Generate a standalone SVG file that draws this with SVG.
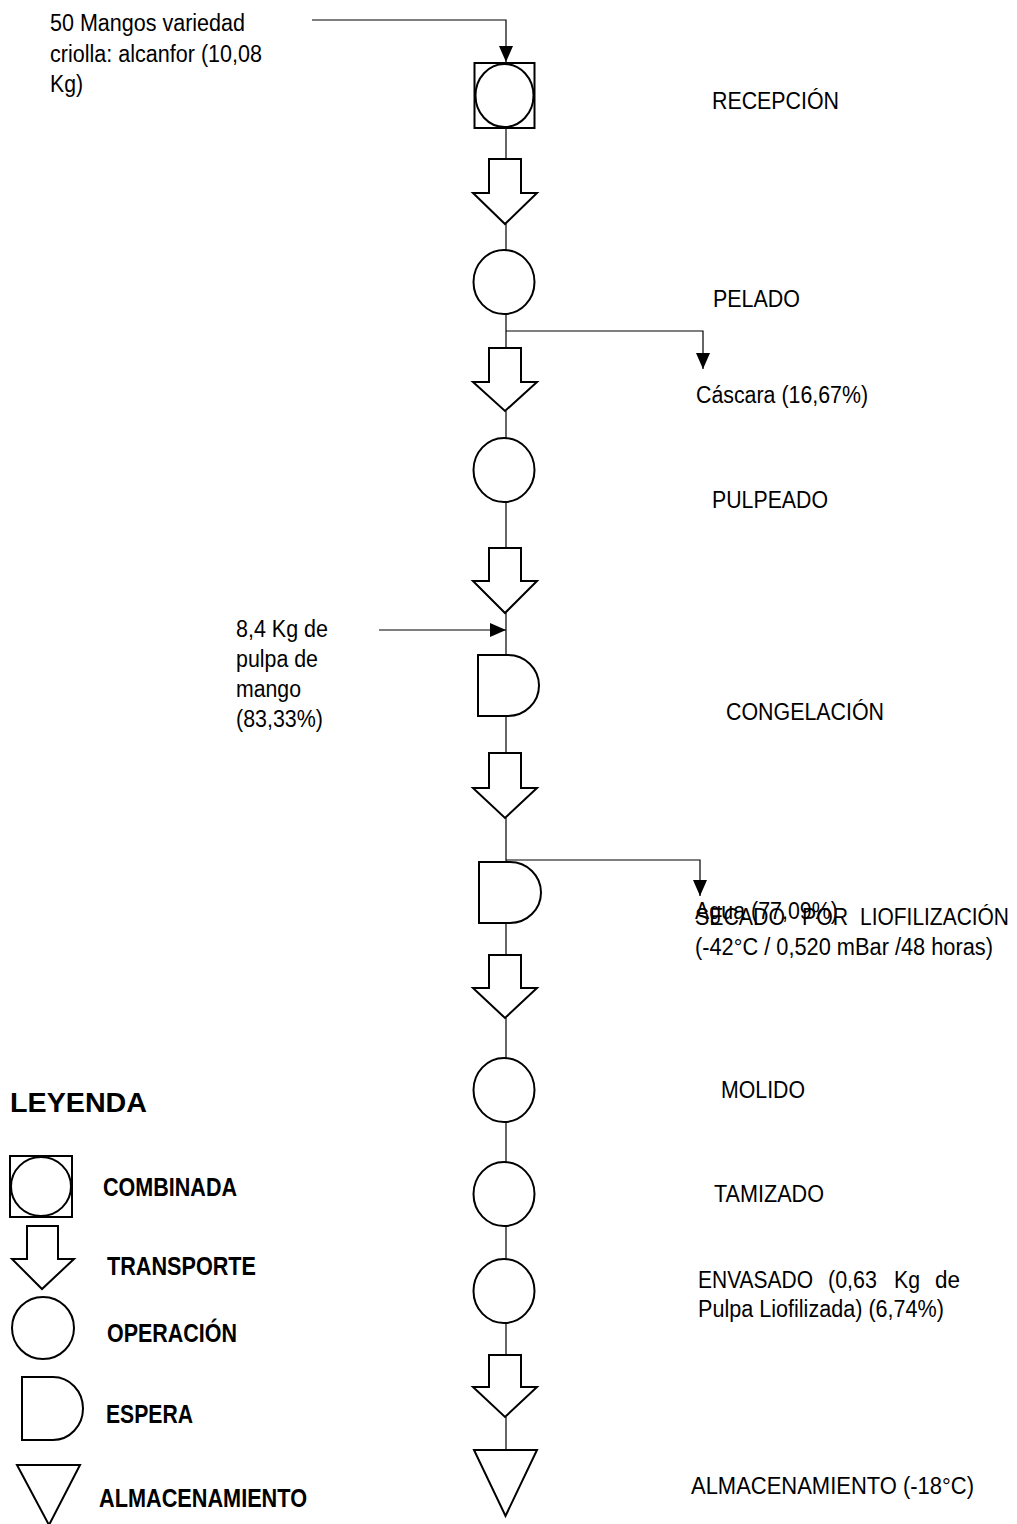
<svg xmlns="http://www.w3.org/2000/svg" width="1017" height="1524" viewBox="0 0 1017 1524">
<defs>
<marker id="ah" markerUnits="userSpaceOnUse" markerWidth="16" markerHeight="14" refX="16" refY="7" orient="auto">
<path d="M0,0 L16,7 L0,14 Z" fill="#000"/>
</marker>
</defs>
<style>
.s{fill:#fff;stroke:#000;stroke-width:2}
.c{fill:none;stroke:#000;stroke-width:1.2}
.t{font-family:"Liberation Sans",Arial,sans-serif;font-size:23.5px;fill:#000}
.b{font-family:"Liberation Sans Narrow","Liberation Sans",Arial,sans-serif;font-weight:bold;font-size:26px;fill:#000}
.h{font-family:"Liberation Sans",Arial,sans-serif;font-weight:bold;font-size:28.5px;fill:#000}
</style>
<rect width="1017" height="1524" fill="#fff"/>
<g id="connectors">
<path class="c" d="M312,20 H506 V62" marker-end="url(#ah)"/>
<line class="c" x1="506" y1="128" x2="506" y2="159"/>
<line class="c" x1="506" y1="224" x2="506" y2="250"/>
<line class="c" x1="506" y1="314" x2="506" y2="348"/>
<path class="c" d="M506,331 H703 V369" marker-end="url(#ah)"/>
<line class="c" x1="506" y1="411" x2="506" y2="438"/>
<line class="c" x1="506" y1="502" x2="506" y2="548"/>
<line class="c" x1="506" y1="613" x2="506" y2="655"/>
<path class="c" d="M379,630 H506" marker-end="url(#ah)"/>
<line class="c" x1="506" y1="716" x2="506" y2="753"/>
<line class="c" x1="506" y1="818" x2="506" y2="862"/>
<path class="c" d="M506,860 H700 V896" marker-end="url(#ah)"/>
<line class="c" x1="506" y1="923" x2="506" y2="955"/>
<line class="c" x1="506" y1="1018" x2="506" y2="1058"/>
<line class="c" x1="506" y1="1122" x2="506" y2="1162"/>
<line class="c" x1="506" y1="1226" x2="506" y2="1259"/>
<line class="c" x1="506" y1="1323" x2="506" y2="1355"/>
<line class="c" x1="506" y1="1417" x2="506" y2="1450"/>
</g>
<g id="input-mangos">
<text class="t" x="50" y="31" textLength="195" lengthAdjust="spacingAndGlyphs">50 Mangos variedad</text>
<text class="t" x="50" y="62" textLength="212" lengthAdjust="spacingAndGlyphs">criolla: alcanfor (10,08</text>
<text class="t" x="50" y="92" textLength="33" lengthAdjust="spacingAndGlyphs">Kg)</text>
</g>
<g id="recepcion">
<rect class="s" x="474.5" y="63" width="60" height="65"/>
<ellipse class="s" cx="504.5" cy="95.5" rx="29" ry="31.5"/>
<text class="t" x="712" y="109" textLength="127" lengthAdjust="spacingAndGlyphs">RECEPCIÓN</text>
</g>
<g id="transporte-1"><path class="s" d="M489,159 H521 V193 H537 L505,224 L473,193 H489 Z"/></g>
<g id="pelado">
<ellipse class="s" cx="504" cy="282" rx="30.5" ry="32"/>
<text class="t" x="713" y="307" textLength="87" lengthAdjust="spacingAndGlyphs">PELADO</text>
</g>
<g id="cascara"><text class="t" x="696" y="403" textLength="172" lengthAdjust="spacingAndGlyphs">Cáscara (16,67%)</text></g>
<g id="transporte-2"><path class="s" d="M489,348 H521 V382 H537 L505,411 L473,382 H489 Z"/></g>
<g id="pulpeado">
<ellipse class="s" cx="504" cy="470" rx="30.5" ry="32"/>
<text class="t" x="712" y="508" textLength="116" lengthAdjust="spacingAndGlyphs">PULPEADO</text>
</g>
<g id="transporte-3"><path class="s" d="M489,548 H521 V581 H537 L505,613 L473,581 H489 Z"/></g>
<g id="input-pulpa">
<text class="t" x="236" y="637" textLength="92" lengthAdjust="spacingAndGlyphs">8,4 Kg de</text>
<text class="t" x="236" y="667" textLength="82" lengthAdjust="spacingAndGlyphs">pulpa de</text>
<text class="t" x="236" y="697" textLength="65" lengthAdjust="spacingAndGlyphs">mango</text>
<text class="t" x="236" y="727" textLength="87" lengthAdjust="spacingAndGlyphs">(83,33%)</text>
</g>
<g id="congelacion">
<path class="s" d="M478,655 H508 A31 30.5 0 0 1 508,716 H478 Z"/>
<text class="t" x="726" y="720" textLength="158" lengthAdjust="spacingAndGlyphs">CONGELACIÓN</text>
</g>
<g id="transporte-4"><path class="s" d="M489,753 H521 V788 H537 L505,818 L473,788 H489 Z"/></g>
<g id="secado">
<path class="s" d="M479,862 H510 A31 30.5 0 0 1 510,923 H479 Z"/>
<text class="t" x="695" y="925" textLength="90" lengthAdjust="spacingAndGlyphs">SECADO</text>
<text class="t" x="802" y="925" textLength="46" lengthAdjust="spacingAndGlyphs">POR</text>
<text class="t" x="860" y="925" textLength="149" lengthAdjust="spacingAndGlyphs">LIOFILIZACIÓN</text>
<text class="t" x="695" y="955" textLength="298" lengthAdjust="spacingAndGlyphs">(-42°C / 0,520 mBar /48 horas)</text>
</g>
<g id="agua"><text class="t" x="695" y="919" textLength="143" lengthAdjust="spacingAndGlyphs">Agua (77,09%)</text></g>
<g id="transporte-5"><path class="s" d="M489,955 H521 V988 H537 L505,1018 L473,988 H489 Z"/></g>
<g id="molido">
<ellipse class="s" cx="504" cy="1090" rx="30.5" ry="32"/>
<text class="t" x="721" y="1098" textLength="84" lengthAdjust="spacingAndGlyphs">MOLIDO</text>
</g>
<g id="tamizado">
<ellipse class="s" cx="504" cy="1194" rx="30.5" ry="32"/>
<text class="t" x="714" y="1202" textLength="110" lengthAdjust="spacingAndGlyphs">TAMIZADO</text>
</g>
<g id="envasado">
<ellipse class="s" cx="504" cy="1291" rx="30.5" ry="32"/>
<text class="t" x="698" y="1288" textLength="115" lengthAdjust="spacingAndGlyphs">ENVASADO</text>
<text class="t" x="828" y="1288" textLength="49" lengthAdjust="spacingAndGlyphs">(0,63</text>
<text class="t" x="894" y="1288" textLength="26" lengthAdjust="spacingAndGlyphs">Kg</text>
<text class="t" x="935" y="1288" textLength="25" lengthAdjust="spacingAndGlyphs">de</text>
<text class="t" x="698" y="1317" textLength="246" lengthAdjust="spacingAndGlyphs">Pulpa Liofilizada) (6,74%)</text>
</g>
<g id="transporte-6"><path class="s" d="M489,1355 H521 V1387 H537 L505,1417 L473,1387 H489 Z"/></g>
<g id="almacenamiento">
<path class="s" d="M474,1450 L537,1450 L505.5,1516 Z"/>
<text class="t" x="691" y="1494" textLength="283" lengthAdjust="spacingAndGlyphs">ALMACENAMIENTO (-18°C)</text>
</g>
<g id="leyenda">
<text class="h" x="10" y="1112" textLength="137" lengthAdjust="spacingAndGlyphs">LEYENDA</text>
<rect class="s" x="10" y="1156" width="62" height="61"/>
<ellipse class="s" cx="41" cy="1186.5" rx="30" ry="29.5"/>
<text class="b" x="103" y="1196" textLength="134" lengthAdjust="spacingAndGlyphs">COMBINADA</text>
<path class="s" d="M27,1226 H58 V1259 H74 L42,1289 L12,1259 H27 Z"/>
<text class="b" x="107" y="1275" textLength="149" lengthAdjust="spacingAndGlyphs">TRANSPORTE</text>
<ellipse class="s" cx="43" cy="1328" rx="31" ry="31"/>
<text class="b" x="107" y="1342" textLength="130" lengthAdjust="spacingAndGlyphs">OPERACIÓN</text>
<path class="s" d="M22,1377 H53 A30 31.5 0 0 1 53,1440 H22 Z"/>
<text class="b" x="106" y="1423" textLength="87" lengthAdjust="spacingAndGlyphs">ESPERA</text>
<path class="s" d="M17,1465 L80,1465 L49,1525 Z"/>
<text class="b" x="99" y="1507" textLength="208" lengthAdjust="spacingAndGlyphs">ALMACENAMIENTO</text>
</g>
</svg>
